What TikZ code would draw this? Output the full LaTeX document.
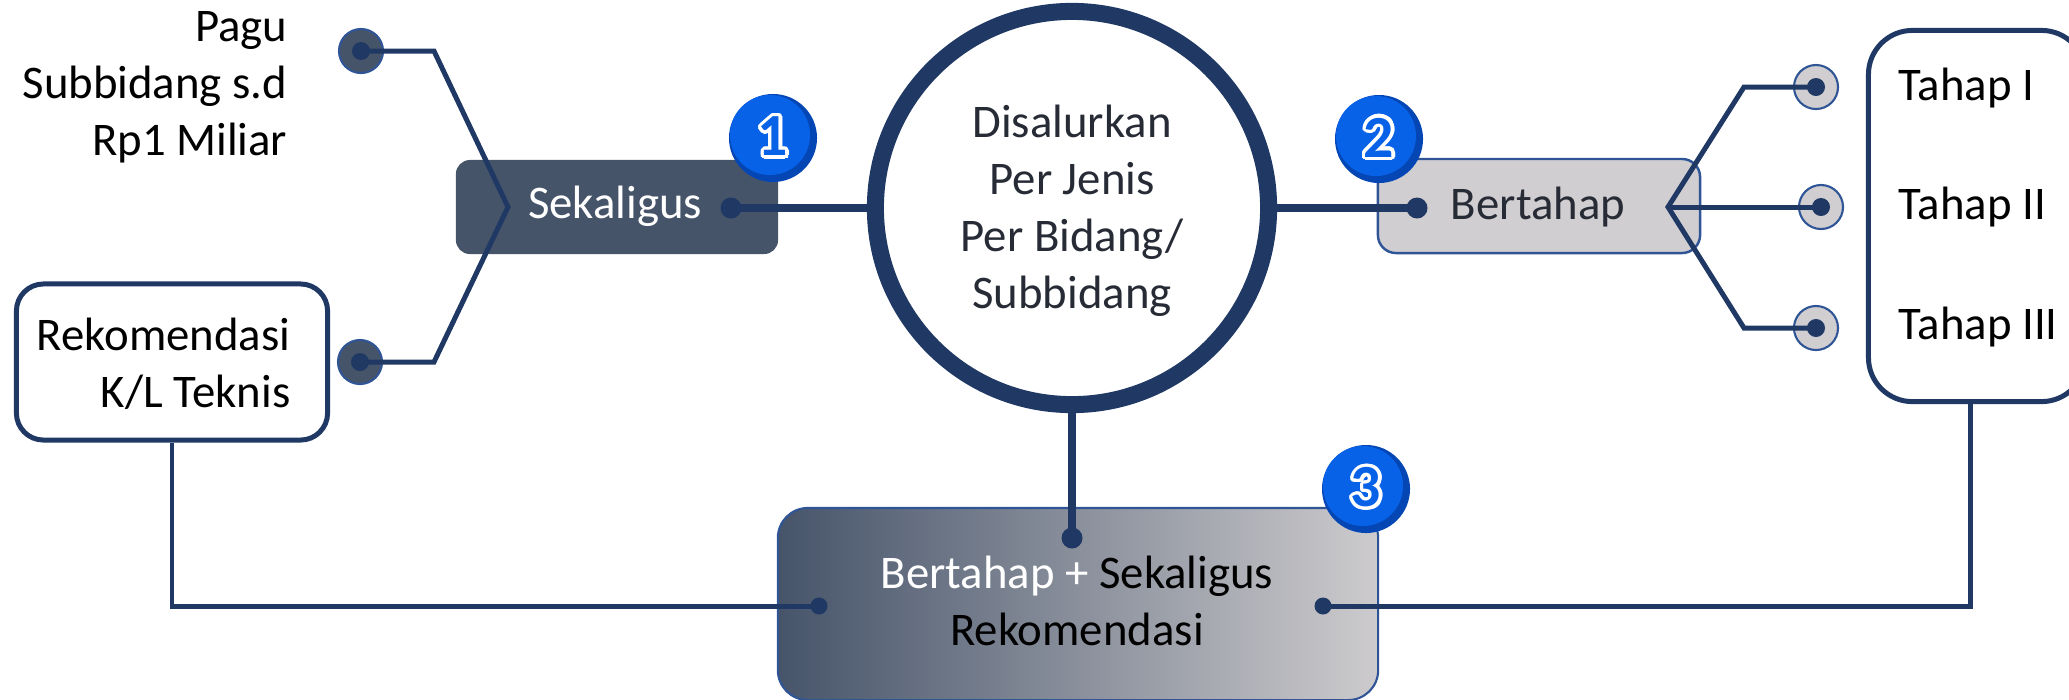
\documentclass[tikz,border=0pt]{standalone}
\usepackage{fontspec}
\setmainfont{Carlito}
\usepackage[copies]{contour}
\usetikzlibrary{calc}
\definecolor{navy}{HTML}{1F3864}
\definecolor{slatebox}{HTML}{46546A}
\definecolor{greybox}{HTML}{D0CED1}
\definecolor{edgeblue}{HTML}{2F5597}
\definecolor{badgeblue}{HTML}{0862E8}
\definecolor{badgeshade}{HTML}{0447B4}
\definecolor{inktext}{HTML}{262B35}
\definecolor{gradlight}{HTML}{CDCBCD}
\contourlength{0.9pt}
\contournumber{32}

\begin{document}
\begin{tikzpicture}[x=0.01cm,y=-0.01cm,
  lbl/.style={font=\fontsize{13.3}{16.2}\selectfont, inner sep=0pt, text=black},
  roundbox/.style={draw=navy, line width=1.42pt, fill=white, inner sep=0pt},
  link/.style={draw=navy, line width=1.42pt, line join=miter},
  mainlink/.style={draw=navy, line width=2pt},
  ringdot/.style={circle, inner sep=0pt, minimum size=0.44cm, draw=edgeblue, line width=0.6pt},
  core/.style={circle, fill=navy, inner sep=0pt, minimum size=0.18cm},
  pin/.style={circle, fill=navy, inner sep=0pt, minimum size=0.21cm},
  badge/.style={circle, fill=badgeshade, inner sep=0pt, minimum size=0.88cm},
  badgenum/.style={font=\fontsize{17}{17}\bfseries\selectfont, inner sep=0pt},
]
\useasboundingbox (0,0) rectangle (2069,699);

% --- boxes -------------------------------------------------------------
\node[roundbox, rounded corners=0.27cm, minimum width=3.11cm, minimum height=1.56cm] (rek) at (172,362) {};
\node[roundbox, rounded corners=0.44cm, minimum width=2.17cm, minimum height=3.71cm] (tahap) at (1977,216) {};
\node[rounded corners=0.14cm, fill=slatebox, minimum width=3.22cm, minimum height=0.94cm, inner sep=0pt] (sek) at (617,207) {};
\node[rounded corners=0.18cm, fill=greybox, draw=edgeblue, line width=0.7pt, minimum width=3.22cm, minimum height=0.94cm, inner sep=0pt] (bert) at (1539,206) {};
\node[rounded corners=0.3cm, left color=slatebox, right color=gradlight, draw=edgeblue, line width=0.6pt, minimum width=6.0cm, minimum height=1.92cm, inner sep=0pt] (combo) at (1078,604) {};

% --- ringed end points --------------------------------------------------
\node[ringdot, fill=slatebox] (pa) at (361,51) {};
\node[ringdot, fill=slatebox] (pb) at (360,362) {};
\node[ringdot, fill=greybox] (t1) at (1816,87) {};
\node[ringdot, fill=greybox] (t2) at (1821,207) {};
\node[ringdot, fill=greybox] (t3) at (1816,328) {};

% --- small pins -----------------------------------------------------------
\node[pin] (sekdot) at (731,208) {};
\node[pin] (bertdot) at (1417,208) {};
\node[pin] (topdot) at (1072,538) {};
\node[pin, minimum size=0.17cm] (ldot) at (819,606) {};
\node[pin, minimum size=0.17cm] (rdot) at (1323,606) {};

% --- hub -------------------------------------------------------------------
\node[circle, draw=navy, line width=4.84pt, fill=white, minimum size=3.93cm, inner sep=0pt] (hub) at (1072,208) {};

% --- connectors -------------------------------------------------------------
\coordinate (kneeA) at (434,51);
\coordinate (forkL) at (508,207);
\coordinate (kneeB) at (434,362);
\draw[link] (pa.center) -- (kneeA) -- (forkL) -- (kneeB) -- (pb.center);

\coordinate (forkR) at (1668,207);
\coordinate (kneeC) at (1744,87);
\coordinate (kneeD) at (1744,328);
\draw[link] (t1.center) -- (kneeC) -- (forkR) -- (kneeD) -- (t3.center);
\draw[link] (forkR) -- (t2.center);

\draw[mainlink] (sekdot.center) -- (hub.west);
\draw[mainlink] (hub.east) -- (bertdot.center);
\draw[navy, line width=2.3pt] (hub.south) -- (topdot.center);

\coordinate (tahapfoot) at ($(tahap.south)+(-7,0)$);
\draw[link] (rek.south) -- (rek.south |- ldot) -- (ldot.center);
\draw[link] (rdot.center) -- (rdot -| tahapfoot) -- (tahapfoot);

% --- cores of ringed end points ------------------------------------------------
\foreach \d in {pa,pb,t1,t2,t3}{
  \node[core] (\d core) at (\d.center) {};
}

% --- texts (multi-line nodes are anchored on their last baseline) ---------------
\node[lbl, align=right, anchor=base east] (pagu) at (288,155) {Pagu\\Subbidang s.d\\Rp1 Miliar};
\node[lbl, align=right, anchor=base east] (rektext) at (291,407) {Rekomendasi\\K/L Teknis};
\node[lbl, align=center, anchor=base, text=inktext] (hubtext) at (1072,308) {Disalurkan\\Per Jenis\\Per Bidang/\\Subbidang};
\node[lbl, anchor=base, text=white] (sektext) at (615,218) {Sekaligus};
\node[lbl, anchor=base, text=inktext] (berttext) at (1538,219) {Bertahap};
\node[lbl, anchor=base west] (tI) at (1898,100) {Tahap I};
\node[lbl, anchor=base west] (tII) at (1898,219) {Tahap II};
\node[lbl, anchor=base west] (tIII) at (1898,339) {Tahap III};
\node[lbl, align=center, anchor=base] (combotext) at (1077,645) {\textcolor{white}{Bertahap +} Sekaligus\\Rekomendasi};

% --- numbered badges -------------------------------------------------------------
\foreach \num/\bx/\by in {1/773/138, 2/1379/139, 3/1366/489}{
  \node[badge] (badge\num) at (\bx,\by) {};
  \fill[badgeblue] ($(badge\num.center)+(-3,-3)$) circle (40);
  \node[badgenum] (num\num) at (badge\num.center) {\contour{white}{\textcolor{badgeblue}{\num}}};
}
\end{tikzpicture}
\end{document}
